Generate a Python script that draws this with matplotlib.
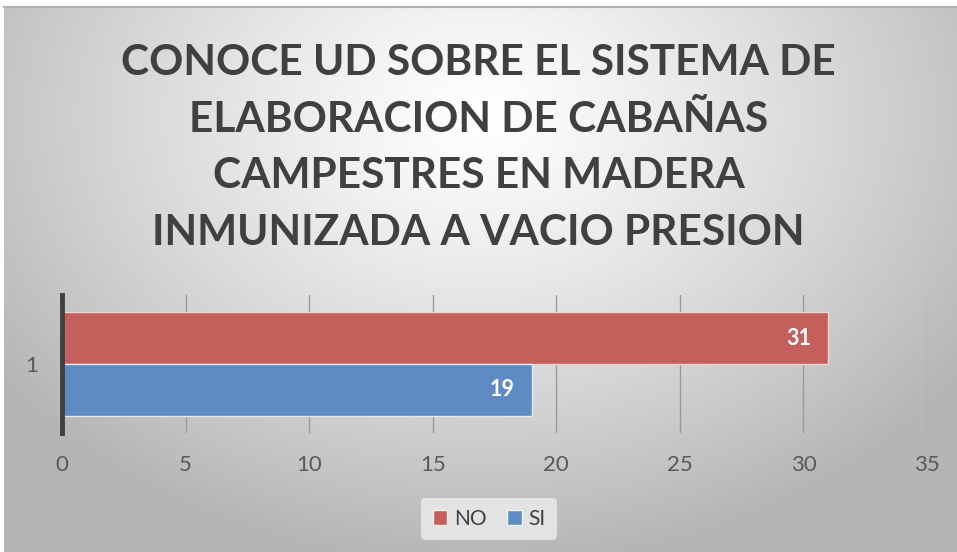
import numpy as np
import matplotlib
matplotlib.use("Agg")
from matplotlib import pyplot as plt
from matplotlib.patches import Patch

# chart data
title = "CONOCE UD SOBRE EL SISTEMA DE\nELABORACION DE CABAÑAS\nCAMPESTRES EN MADERA\nINMUNIZADA A VACIO PRESION"
category = ["1"]
series_names = ["NO", "SI"]
series_values = [31, 19]
series_colors = ["#c55f5c", "#5f8bc3"]
x_ticks = [0, 5, 10, 15, 20, 25, 30, 35]

plt.rcParams['font.family'] = ['Lato', 'DejaVu Sans']

fig = plt.figure(figsize=(9.57, 5.52), dpi=100)
fig.patch.set_facecolor("white")

# radial gradient background
bg = fig.add_axes([4 / 957, 0, 1 - 4 / 957, 1 - 7 / 552])
bg.set_axis_off()
yy, xx = np.mgrid[0:1:300j, 0:1:500j]
r = np.sqrt(((xx - 0.5) * 1.0) ** 2 + ((yy - 0.8) * 0.75) ** 2)
shade = 1.0 - 0.29 * np.clip(r / 0.62, 0, 1) ** 1.2
bg.imshow(np.dstack([shade] * 3), extent=[0, 1, 0, 1], origin="lower", aspect="auto")
bg.plot([0, 1], [1, 1], color="#b0b0b0", lw=1.5, transform=bg.transAxes, clip_on=False)

fig.text(0.5, 1 - 148 / 552, title, ha="center", va="center", fontsize=30.5, fontweight="bold",
         color="#404040", linespacing=1.6)

ax = fig.add_axes([62 / 957, 1 - 433 / 552, 865 / 957, 138 / 552])
ax.patch.set_alpha(0)
bar_h = 0.375
offsets = [bar_h / 2, -bar_h / 2]
for name, val, col, off in zip(series_names, series_values, series_colors, offsets):
    ax.barh(1 + off, val, height=bar_h, color=col, edgecolor="#f0d8d8" if name == "NO" else "#e0e8f0",
            linewidth=1, zorder=3, label=name)
    ax.annotate(str(val), xy=(val, 1 + off), xytext=(-12, 0), textcoords="offset points",
                ha="right", va="center", color="white", fontsize=15.5, fontweight="bold", zorder=4)

ax.set_xlim(0, 35)
ax.set_ylim(0.5, 1.5)
ax.set_xticks(x_ticks)
ax.set_yticks([1])
ax.set_yticklabels(category)
ax.grid(axis="x", color="#9a9a9a", lw=1, zorder=1)
ax.tick_params(axis="both", length=0, labelsize=16, labelcolor="#595959")
ax.tick_params(axis="x", pad=16)
ax.tick_params(axis="y", pad=17)
for s in ["top", "right", "bottom"]:
    ax.spines[s].set_visible(False)
ax.spines["left"].set_color("#404040")
ax.spines["left"].set_linewidth(3.5)
ax.spines["left"].set_zorder(5)

handles = [Patch(facecolor=c, edgecolor="#f0f0f0", label=n) for n, c in zip(series_names, series_colors)]
leg = fig.legend(handles=handles, loc="center", bbox_to_anchor=(489 / 957, 1 - 519 / 552), ncol=2,
                 frameon=True, fontsize=15, handlelength=0.7, handleheight=0.7, handletextpad=0.3,
                 columnspacing=1.0, borderpad=0.55)
leg.get_frame().set_facecolor("#e3e3e3")
leg.get_frame().set_edgecolor("none")
leg.get_frame().set_alpha(1)
for t in leg.get_texts():
    t.set_color("#404040")

fig.savefig("out.png", dpi=100)
